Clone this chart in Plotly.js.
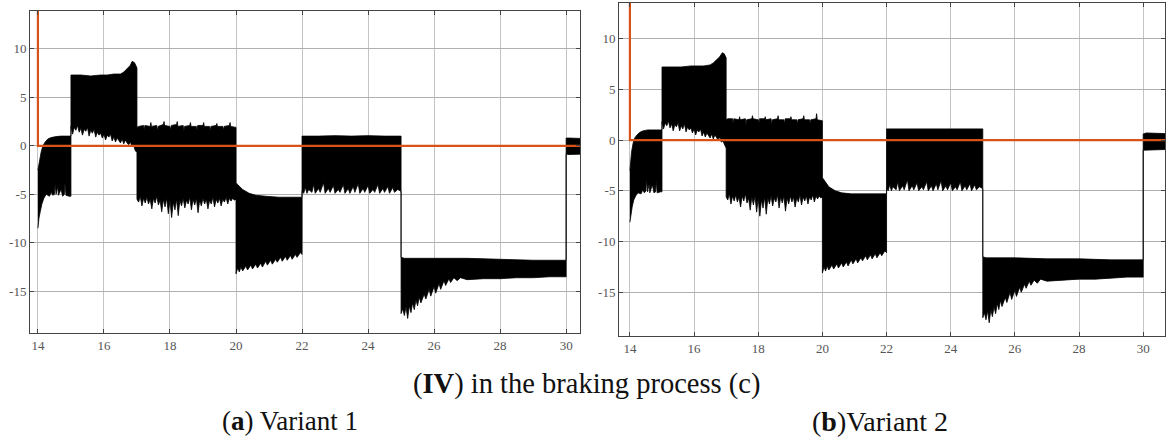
<!DOCTYPE html>
<html><head><meta charset="utf-8">
<script src="https://cdn.plot.ly/plotly-3.0.1.min.js"></script>
<style>html,body{margin:0;padding:0;background:#fff;}#chart{width:1166px;height:443px;}</style>
</head><body><div id="chart"></div>
<script>
// ---- Data ----
// Reference (orange) signal
const refTime = [14.0, 14.0, 31.0];
const refValue = [30, 0, 0];

// Variant 1: upper envelope of the oscillating (black) signal
const v1UpperT = [14.00,14.05,14.10,14.15,14.22,14.30,14.40,14.55,14.70,15.00,
  15.00,15.30,15.60,15.90,16.10,16.30,16.50,16.60,16.70,16.80,16.85,16.92,16.98,17.00,
  17.00,17.05,17.20,17.22,17.24,17.40,17.42,17.44,17.60,17.62,17.64,17.80,17.82,17.84,18.00,18.02,18.04,18.20,18.22,18.24,18.40,18.42,18.44,18.60,18.62,18.64,18.80,18.82,18.84,19.00,19.02,19.04,19.20,19.22,19.24,19.40,19.42,19.44,19.60,19.62,19.64,19.80,19.82,19.84,20.00,
  20.00,20.05,20.20,20.40,20.60,20.90,21.30,22.00,
  22.00,22.50,23.00,23.50,24.00,24.50,25.00,
  25.00,25.10,26.00,27.00,28.00,29.00,30.00,
  30.00,30.10,31.00];
const v1UpperV = [-2.5,-1.5,-0.6,0.0,0.4,0.7,0.85,0.95,1.0,1.0,
  7.3,7.3,7.2,7.3,7.3,7.4,7.4,7.6,8.0,8.3,8.7,8.6,8.2,8.0,
  1.9,2.0,2.1,1.6,2.1,2.0,2.4,2.0,2.1,1.5,2.0,2.2,2.5,2.1,2.0,1.6,2.1,2.2,2.5,2.0,2.1,1.5,2.0,2.1,2.4,2.0,2.0,1.6,2.1,2.1,2.4,2.0,2.0,1.5,2.0,2.1,2.3,2.0,2.0,1.6,2.0,2.1,2.4,2.0,1.9,
  -3.8,-4.0,-4.5,-4.9,-5.1,-5.2,-5.3,-5.3,
  1.0,1.0,1.05,1.0,1.05,1.0,1.0,
  -11.5,-11.6,-11.6,-11.6,-11.7,-11.8,-11.8,
  0.8,0.8,0.7];

// Variant 1: lower envelope
const v1LowerT = [14.00,14.03,14.07,14.12,14.18,14.25,14.35,14.40,14.45,14.50,14.52,14.55,14.60,14.62,14.65,14.70,14.75,14.80,14.82,14.85,14.95,15.00,
  15.00,15.05,15.10,15.15,15.20,15.25,15.30,15.35,15.40,15.45,15.50,15.55,15.60,15.65,15.70,15.75,15.80,15.85,15.90,15.95,16.00,16.05,16.10,16.15,16.20,16.25,16.30,16.35,16.40,16.45,16.50,16.55,16.60,16.65,16.70,16.75,16.80,16.85,16.90,16.95,17.00,
  17.00,17.05,17.10,17.15,17.20,17.25,17.30,17.35,17.40,17.45,17.50,17.55,17.60,17.65,17.70,17.75,17.80,17.85,17.90,17.95,18.00,18.05,18.10,18.15,18.20,18.25,18.30,18.35,18.40,18.45,18.50,18.55,18.60,18.65,18.70,18.75,18.80,18.85,18.90,18.95,19.00,19.05,19.10,19.15,19.20,19.25,19.30,19.35,19.40,19.45,19.50,19.55,19.60,19.65,19.70,19.75,19.80,19.85,19.90,19.95,20.00,
  20.00,20.05,20.10,20.15,20.20,20.30,20.35,20.45,20.50,20.60,20.65,20.75,20.80,20.90,20.95,21.05,21.10,21.20,21.25,21.35,21.40,21.50,21.55,21.65,21.70,21.80,21.85,21.95,22.00,
  22.00,22.05,22.10,22.15,22.20,22.30,22.35,22.40,22.50,22.55,22.65,22.70,22.80,22.85,22.95,23.00,23.10,23.15,23.25,23.30,23.40,23.45,23.55,23.60,23.70,23.75,23.85,23.90,24.00,24.05,24.15,24.20,24.30,24.35,24.45,24.50,24.60,24.65,24.75,24.80,24.90,25.00,
  25.00,25.05,25.10,25.15,25.20,25.25,25.30,25.35,25.40,25.45,25.50,25.55,25.60,25.70,25.75,25.85,25.90,26.00,26.05,26.15,26.20,26.30,26.35,26.45,26.50,26.60,26.70,26.80,27.00,27.50,28.00,28.50,29.00,29.50,30.00,
  30.00,30.05,31.00];
const v1LowerV = [-8.5,-7.5,-6.8,-6.0,-5.4,-5.0,-5.2,-4.8,-5.1,-5.0,-3.9,-5.0,-4.2,-5.1,-5.0,-4.5,-5.2,-5.0,-3.8,-5.1,-5.2,-5.2,
  2.0,1.2,1.9,1.6,2.1,1.4,1.8,1.1,1.7,1.5,1.9,1.0,1.6,1.3,1.7,0.9,1.4,1.1,1.3,0.8,1.2,0.6,1.1,0.9,1.2,0.5,0.9,0.4,0.8,0.6,0.3,0.7,0.2,0.6,0.3,0.1,0.4,-0.1,0.0,-0.5,-0.7,
  -5.5,-5.8,-5.2,-6.2,-5.4,-5.9,-5.3,-6.0,-5.5,-6.5,-5.4,-5.9,-5.2,-6.1,-5.6,-6.8,-5.5,-6.3,-5.4,-7.0,-5.6,-7.4,-5.8,-6.6,-5.5,-7.2,-5.6,-6.2,-5.4,-6.4,-5.6,-6.0,-5.3,-6.6,-5.5,-6.1,-5.4,-6.9,-5.6,-6.2,-5.4,-6.0,-5.5,-6.5,-5.6,-6.0,-5.3,-6.3,-5.5,-5.9,-5.4,-6.2,-5.5,-5.8,-5.3,-6.0,-5.4,-5.7,-5.4,-5.6,-5.5,
  -13.2,-12.6,-13.0,-12.5,-12.9,-12.4,-12.8,-12.3,-12.7,-12.2,-12.6,-12.1,-12.5,-11.9,-12.3,-11.8,-12.2,-11.7,-12.0,-11.5,-11.9,-11.4,-11.8,-11.3,-11.7,-11.2,-11.5,-11.0,-11.2,
  -4.7,-4.9,-4.3,-4.9,-4.5,-4.8,-4.0,-4.9,-4.4,-4.8,-3.8,-4.9,-4.4,-4.8,-4.1,-4.9,-4.5,-4.8,-4.0,-4.9,-4.4,-4.9,-4.2,-4.8,-3.9,-4.9,-4.4,-4.8,-4.1,-4.9,-4.5,-4.8,-4.0,-4.9,-4.4,-4.8,-4.2,-4.9,-4.3,-4.8,-4.5,-4.7,
  -17.3,-16.8,-17.5,-16.6,-17.8,-16.5,-17.2,-16.2,-16.9,-15.9,-16.5,-15.6,-16.2,-15.3,-15.8,-14.8,-15.5,-14.5,-15.2,-14.2,-14.8,-13.9,-14.4,-13.7,-14.1,-13.6,-13.9,-13.6,-13.8,-13.7,-13.7,-13.6,-13.6,-13.5,-13.5,
  -0.8,-0.9,-0.8];

// Variant 2: upper envelope
const v2UpperT = [14.00,14.05,14.10,14.15,14.22,14.30,14.40,14.55,14.70,15.00,
  15.00,15.30,15.60,15.90,16.10,16.30,16.50,16.60,16.70,16.80,16.88,16.94,17.00,
  17.00,17.05,17.20,17.22,17.24,17.40,17.42,17.44,17.60,17.62,17.64,17.80,17.82,17.84,18.00,18.02,18.04,18.20,18.22,18.24,18.40,18.42,18.44,18.60,18.62,18.64,18.80,18.82,18.84,19.00,19.02,19.04,19.20,19.22,19.24,19.40,19.42,19.44,19.60,19.62,19.64,19.80,19.82,19.84,20.00,
  20.00,20.05,20.20,20.40,20.60,20.90,21.30,22.00,
  22.00,22.50,23.00,23.50,24.00,24.50,25.00,
  25.00,25.10,26.00,27.00,28.00,29.00,30.00,
  30.00,30.10,31.00];
const v2UpperV = [-3.0,-1.2,-0.3,0.2,0.5,0.75,0.9,1.0,1.0,1.0,
  7.2,7.2,7.2,7.3,7.3,7.3,7.4,7.6,7.9,8.2,8.6,8.5,8.1,
  2.0,2.1,2.1,1.6,2.1,2.0,2.3,2.0,2.1,1.5,2.0,2.1,2.4,2.1,2.0,1.6,2.1,2.1,2.3,2.0,2.1,1.5,2.0,2.1,2.4,2.0,2.0,1.6,2.1,2.1,2.3,2.0,2.0,1.5,2.0,2.1,2.4,2.0,2.0,1.6,2.0,2.1,2.6,2.0,1.9,
  -3.7,-3.9,-4.6,-5.0,-5.2,-5.3,-5.3,-5.3,
  1.1,1.1,1.15,1.1,1.1,1.1,1.1,
  -11.5,-11.6,-11.6,-11.7,-11.7,-11.8,-11.8,
  0.6,0.7,0.6];

// Variant 2: lower envelope
const v2LowerT = [14.00,14.03,14.07,14.12,14.18,14.25,14.35,14.40,14.45,14.50,14.52,14.55,14.60,14.62,14.65,14.70,14.75,14.80,14.82,14.85,14.95,15.00,
  15.00,15.05,15.10,15.15,15.20,15.25,15.30,15.35,15.40,15.45,15.50,15.55,15.60,15.65,15.70,15.75,15.80,15.85,15.90,15.95,16.00,16.05,16.10,16.15,16.20,16.25,16.30,16.35,16.40,16.45,16.50,16.55,16.60,16.65,16.70,16.75,16.80,16.85,16.90,16.95,17.00,
  17.00,17.05,17.10,17.15,17.20,17.25,17.30,17.35,17.40,17.45,17.50,17.55,17.60,17.65,17.70,17.75,17.80,17.85,17.90,17.95,18.00,18.05,18.10,18.15,18.20,18.25,18.30,18.35,18.40,18.45,18.50,18.55,18.60,18.65,18.70,18.75,18.80,18.85,18.90,18.95,19.00,19.05,19.10,19.15,19.20,19.25,19.30,19.35,19.40,19.45,19.50,19.55,19.60,19.65,19.70,19.75,19.80,19.85,19.90,19.95,20.00,
  20.00,20.05,20.10,20.15,20.20,20.30,20.35,20.45,20.50,20.60,20.65,20.75,20.80,20.90,20.95,21.05,21.10,21.20,21.25,21.35,21.40,21.50,21.55,21.65,21.70,21.80,21.85,21.95,22.00,
  22.00,22.05,22.10,22.15,22.20,22.30,22.35,22.40,22.50,22.55,22.65,22.70,22.80,22.85,22.95,23.00,23.10,23.15,23.25,23.30,23.40,23.45,23.55,23.60,23.70,23.75,23.85,23.90,24.00,24.05,24.15,24.20,24.30,24.35,24.45,24.50,24.60,24.65,24.75,24.80,24.90,25.00,
  25.00,25.05,25.10,25.15,25.20,25.25,25.30,25.35,25.40,25.45,25.50,25.55,25.60,25.70,25.75,25.85,25.90,26.00,26.05,26.15,26.20,26.30,26.35,26.45,26.50,26.60,26.70,26.80,27.00,27.50,28.00,28.50,29.00,29.50,30.00,
  30.00,30.05,31.00];
const v2LowerV = [-8.1,-7.4,-6.6,-5.9,-5.5,-5.2,-5.3,-4.9,-5.2,-5.0,-3.8,-5.1,-4.3,-5.2,-5.0,-4.4,-5.2,-5.1,-4.0,-5.2,-5.1,-5.1,
  1.8,1.1,1.7,1.4,1.9,1.2,1.6,0.9,1.5,1.3,1.7,0.9,1.4,1.1,1.6,0.8,1.3,1.0,1.2,0.7,1.1,0.5,1.0,0.8,1.1,0.4,0.8,0.3,0.7,0.5,0.2,0.6,0.1,0.5,0.2,0.0,0.3,-0.2,-0.1,-0.5,-0.8,
  -5.6,-5.9,-5.3,-6.3,-5.5,-6.0,-5.4,-6.1,-5.6,-6.6,-5.5,-6.0,-5.3,-6.2,-5.7,-6.9,-5.6,-6.4,-5.5,-7.1,-5.7,-7.5,-5.9,-6.7,-5.6,-7.3,-5.7,-6.3,-5.5,-6.5,-5.7,-6.1,-5.4,-6.7,-5.6,-6.2,-5.5,-7.0,-5.7,-6.3,-5.5,-6.1,-5.6,-6.6,-5.7,-6.1,-5.4,-6.4,-5.6,-6.0,-5.5,-6.3,-5.6,-5.9,-5.4,-6.1,-5.5,-5.8,-5.5,-5.7,-5.6,
  -13.1,-12.5,-12.9,-12.4,-12.8,-12.3,-12.7,-12.2,-12.6,-12.1,-12.5,-12.0,-12.4,-11.8,-12.2,-11.7,-12.1,-11.6,-11.9,-11.4,-11.8,-11.3,-11.7,-11.2,-11.6,-11.1,-11.4,-10.9,-11.1,
  -4.8,-5.0,-4.4,-5.0,-4.6,-4.9,-4.1,-5.0,-4.5,-4.9,-3.9,-5.0,-4.5,-4.9,-4.2,-5.0,-4.6,-4.9,-4.1,-5.0,-4.5,-5.0,-4.3,-4.9,-4.0,-5.0,-4.5,-4.9,-4.2,-5.0,-4.6,-4.9,-4.1,-5.0,-4.5,-4.9,-4.3,-5.0,-4.4,-4.9,-4.6,-4.8,
  -17.5,-17.0,-17.7,-16.8,-18.0,-16.7,-17.4,-16.4,-17.1,-16.1,-16.7,-15.8,-16.4,-15.5,-16.0,-15.0,-15.7,-14.8,-15.4,-14.5,-15.0,-14.2,-14.6,-13.9,-14.3,-13.8,-14.1,-13.7,-13.9,-13.8,-13.7,-13.7,-13.6,-13.5,-13.5,
  -1.0,-1.0,-0.9];

// Axis ticks
const xTickVals = [14,16,18,20,22,24,26,28,30];
const yTickVals = [-15,-10,-5,0,5,10];
const yTickText = ['-15','-10','-5','0','5','10'];

// ---- Build traces ----
function band(upT, upV, loT, loV, xa, ya) {
  const x = upT.concat(loT.slice().reverse());
  const y = upV.concat(loV.slice().reverse());
  return {x: x, y: y, type: 'scatter', mode: 'lines', fill: 'toself',
    fillcolor: '#000', line: {color: '#000', width: 0.8}, xaxis: xa, yaxis: ya,
    hoverinfo: 'skip', showlegend: false};
}
function ref(xa, ya) {
  return {x: refTime, y: refValue, type: 'scatter', mode: 'lines',
    line: {color: '#D95319', width: 2.2}, xaxis: xa, yaxis: ya, showlegend: false};
}
const traces = [
  band(v1UpperT, v1UpperV, v1LowerT, v1LowerV, 'x', 'y'),
  ref('x', 'y'),
  band(v2UpperT, v2UpperV, v2LowerT, v2LowerV, 'x2', 'y2'),
  ref('x2', 'y2')
];

const tickFont = {family: 'Liberation Serif, serif', size: 13, color: '#555'};
function xAxis(domain, range, anchor) {
  return {domain: domain, range: range, anchor: anchor, tickmode: 'array', tickvals: xTickVals,
    showgrid: true, gridcolor: '#c4c4c4', gridwidth: 1, zeroline: false,
    showline: true, linecolor: '#444', linewidth: 1, mirror: 'ticks',
    ticks: 'inside', ticklen: 4, tickcolor: '#444', tickfont: tickFont};
}
function yAxis(domain, range, anchor) {
  return {domain: domain, range: range, anchor: anchor, tickmode: 'array', tickvals: yTickVals, ticktext: yTickText,
    showgrid: true, gridcolor: '#b0b0b0', gridwidth: 1, zeroline: false,
    showline: true, linecolor: '#444', linewidth: 1, mirror: 'ticks',
    ticks: 'inside', ticklen: 4, tickcolor: '#444', tickfont: tickFont};
}
const W = 1166, H = 443;
const layout = {
  width: W, height: H, margin: {l: 0, r: 0, t: 0, b: 0},
  paper_bgcolor: '#fff', plot_bgcolor: '#fff', showlegend: false,
  xaxis: xAxis([30/W, 580/W], [13.76, 30.42], 'y'),
  yaxis: yAxis([1-333/H, 1-11/H], [-19.3, 13.9], 'x'),
  xaxis2: xAxis([619/W, 1165/W], [13.66, 30.68], 'y2'),
  yaxis2: yAxis([1-336/H, 1-3/H], [-19.3, 13.5], 'x2'),
  annotations: [
    {text: '(<b>IV</b>) in the braking process (c)', x: 586/W, y: 1-384/H, xref: 'paper', yref: 'paper',
     xanchor: 'center', yanchor: 'middle', showarrow: false,
     font: {family: 'Liberation Serif, serif', size: 28.5, color: '#111'}},
    {text: '(<b>a</b>) Variant 1', x: 290/W, y: 1-421/H, xref: 'paper', yref: 'paper',
     xanchor: 'center', yanchor: 'middle', showarrow: false,
     font: {family: 'Liberation Serif, serif', size: 27, color: '#111'}},
    {text: '(<b>b</b>)Variant 2', x: 880/W, y: 1-421/H, xref: 'paper', yref: 'paper',
     xanchor: 'center', yanchor: 'middle', showarrow: false,
     font: {family: 'Liberation Serif, serif', size: 28, color: '#111'}}
  ]
};
Plotly.newPlot('chart', traces, layout, {staticPlot: true, displayModeBar: false});
</script>
</body></html>
